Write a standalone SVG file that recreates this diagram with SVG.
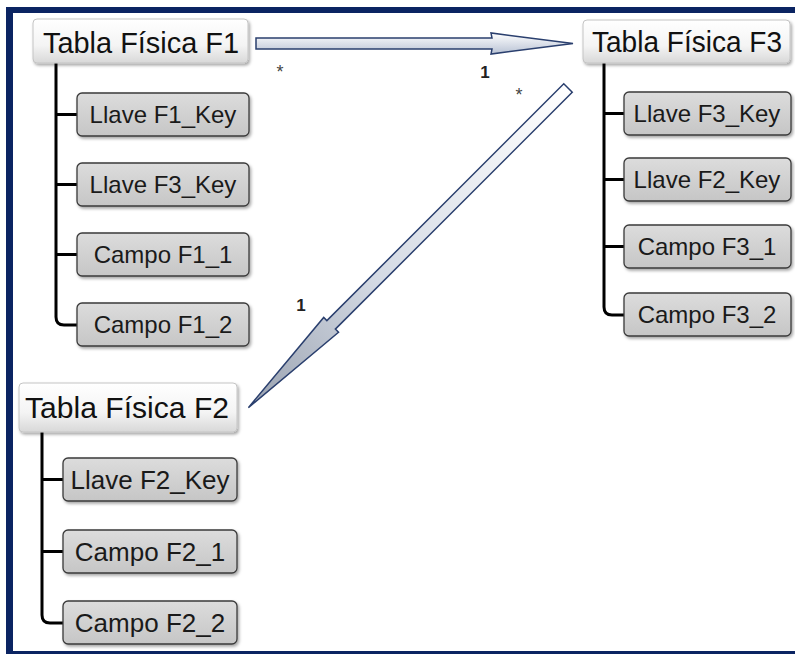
<svg xmlns="http://www.w3.org/2000/svg" width="795" height="654" viewBox="0 0 795 654">
<style>
.hdr{fill:url(#gHdr);stroke:#c4c4c4;stroke-width:1;filter:url(#sh)}
.fld{fill:url(#gFld);stroke:#3a3a3a;stroke-width:1.3;filter:url(#sh)}
.ht{font-family:"Liberation Sans",Arial,sans-serif;font-size:29px;fill:#111;text-anchor:middle}
.ft{font-family:"Liberation Sans",Arial,sans-serif;font-size:24px;fill:#1a1a1a;text-anchor:middle}
.tree{fill:none;stroke:#000;stroke-width:3}
.arr{stroke:#2a3f6e;stroke-width:1.5;stroke-linejoin:miter}
.lbl{font-family:"Liberation Sans",Arial,sans-serif;font-size:17px;font-weight:bold;fill:#222;text-anchor:middle}
.ast{font-family:"Liberation Sans",Arial,sans-serif;font-size:18px;fill:#444;text-anchor:middle}
</style>
<defs>
<linearGradient id="gHdr" x1="0" y1="0" x2="0" y2="1">
<stop offset="0" stop-color="#ffffff"/><stop offset="0.6" stop-color="#f4f4f4"/><stop offset="1" stop-color="#d8d8d8"/>
</linearGradient>
<linearGradient id="gFld" x1="0" y1="0" x2="0" y2="1">
<stop offset="0" stop-color="#dcdcdc"/><stop offset="1" stop-color="#c6c6c6"/>
</linearGradient>
<linearGradient id="gArrH" x1="0" y1="0" x2="0" y2="1">
<stop offset="0" stop-color="#ffffff"/><stop offset="1" stop-color="#b8c2d4"/>
</linearGradient>
<linearGradient id="gArrD" gradientUnits="userSpaceOnUse" x1="0" y1="0" x2="452" y2="0">
<stop offset="0" stop-color="#ffffff"/><stop offset="0.6" stop-color="#d4dae4"/><stop offset="1" stop-color="#9aa2b0"/>
</linearGradient>
<filter id="sh" x="-10%" y="-20%" width="125%" height="150%">
<feDropShadow dx="1.5" dy="2" stdDeviation="1.5" flood-color="#000" flood-opacity="0.35"/>
</filter>
</defs>
<rect width="795" height="654" fill="#fff"/>
<g id="frame" fill="#0b2462">
<rect x="6" y="7" width="789" height="6"/>
<rect x="6" y="7" width="7" height="647"/>
<rect x="6" y="651" width="789" height="3"/>
</g>
<g id="connectors">
<path class="tree" d="M56,63 V317 Q56,325 64,325 H77 M56,114.5 H77 M56,184.5 H77 M56,254.5 H77"/>
<path class="tree" d="M604,63 V307 Q604,315 612,315 H624 M604,113.5 H624 M604,179.5 H624 M604,246.5 H624"/>
<path class="tree" d="M42,432 V615 Q42,623 50,623 H63 M42,479.5 H63 M42,551.5 H63"/>
<path id="arrowF1F3" class="arr" fill="url(#gArrH)" d="M256,38 H492 L491,33 L573,43.5 L491,54 L492,49 H256 Z"/>
<path id="arrowF3F2" class="arr" fill="url(#gArrD)" transform="translate(568,88) rotate(135)" d="M0,-6 H335 V-10.5 L452,0 L335,10.5 V6 H0 Z"/>
<text class="ast" x="280" y="78">*</text>
<text class="lbl" x="485" y="78">1</text>
<text class="ast" x="519" y="101">*</text>
<text class="lbl" x="301" y="311">1</text>
</g>
<g id="F1">
<rect class="hdr" x="33" y="19" width="215" height="44" rx="4"/>
<text class="ht" x="141" y="53" textLength="196" lengthAdjust="spacingAndGlyphs">Tabla Física F1</text>
</g>
<g id="F1_k1"><rect class="fld" x="77" y="93" width="172" height="43" rx="5"/><text class="ft" x="163" y="123">Llave F1_Key</text></g>
<g id="F1_k3"><rect class="fld" x="77" y="163" width="172" height="43" rx="5"/><text class="ft" x="163" y="193">Llave F3_Key</text></g>
<g id="F1_c1"><rect class="fld" x="77" y="233" width="172" height="43" rx="5"/><text class="ft" x="163" y="263">Campo F1_1</text></g>
<g id="F1_c2"><rect class="fld" x="77" y="303" width="172" height="43" rx="5"/><text class="ft" x="163" y="333">Campo F1_2</text></g>
<g id="F3">
<rect class="hdr" x="583" y="20" width="207" height="43" rx="4"/>
<text class="ht" x="687" y="52" textLength="190" lengthAdjust="spacingAndGlyphs">Tabla Física F3</text>
</g>
<g id="F3_k3"><rect class="fld" x="624" y="92" width="167" height="43" rx="5"/><text class="ft" x="707" y="122">Llave F3_Key</text></g>
<g id="F3_k2"><rect class="fld" x="624" y="158" width="167" height="43" rx="5"/><text class="ft" x="707" y="188">Llave F2_Key</text></g>
<g id="F3_c1"><rect class="fld" x="624" y="225" width="167" height="43" rx="5"/><text class="ft" x="707" y="255">Campo F3_1</text></g>
<g id="F3_c2"><rect class="fld" x="624" y="293" width="167" height="43" rx="5"/><text class="ft" x="707" y="323">Campo F3_2</text></g>
<g id="F2">
<rect class="hdr" x="19" y="383" width="218" height="49" rx="4"/>
<text class="ht" x="127" y="418" textLength="204" lengthAdjust="spacingAndGlyphs">Tabla Física F2</text>
</g>
<g id="F2_k2"><rect class="fld" x="63" y="458" width="174" height="43" rx="5"/><text class="ft" x="150" y="489" style="font-size:26px">Llave F2_Key</text></g>
<g id="F2_c1"><rect class="fld" x="63" y="530" width="174" height="43" rx="5"/><text class="ft" x="150" y="561" style="font-size:26px">Campo F2_1</text></g>
<g id="F2_c2"><rect class="fld" x="63" y="601" width="174" height="43" rx="5"/><text class="ft" x="150" y="632" style="font-size:26px">Campo F2_2</text></g>
</svg>
